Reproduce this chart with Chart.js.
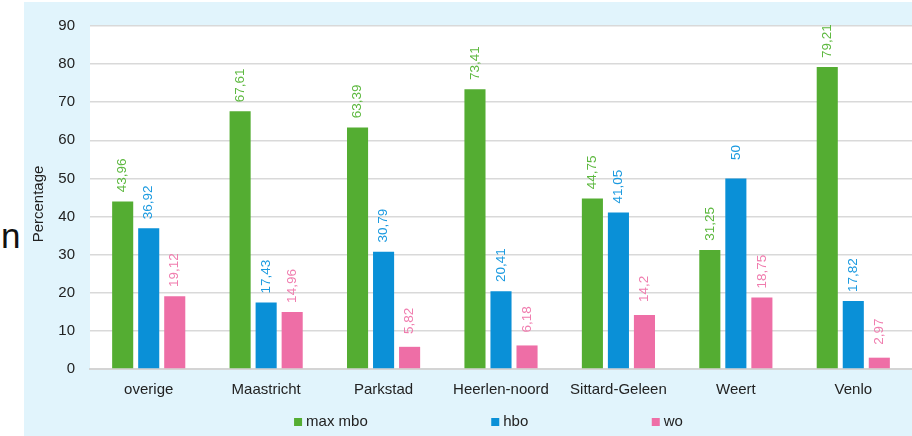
<!DOCTYPE html>
<html lang="nl">
<head>
    <meta charset="UTF-8">
    <title>Percentage per regio</title>
    <script src="https://cdn.jsdelivr.net/npm/chart.js"></script>
    <style>
        body { margin: 0; background: #fff; font-family: "Liberation Sans", Arial, sans-serif; }
        #stray { position: absolute; left: 1px; top: 216px; font-size: 35px; color: #111; }
        #box { position: absolute; left: 24px; top: 2px; width: 888px; height: 434px; background: #e1f4fc; }
    </style>
</head>
<body>
    <span id="stray">n</span>
    <div id="box"><canvas id="chart" width="888" height="434"></canvas></div>

    <script>
        const regions = ["overige", "Maastricht", "Parkstad", "Heerlen-noord", "Sittard-Geleen", "Weert", "Venlo"];
        const maxMbo = [43.96, 67.61, 63.39, 73.41, 44.75, 31.25, 79.21];
        const hbo = [36.92, 17.43, 30.79, 20.41, 41.05, 50, 17.82];
        const wo = [19.12, 14.96, 5.82, 6.18, 14.2, 18.75, 2.97];
        const yTicks = [0, 10, 20, 30, 40, 50, 60, 70, 80, 90];

        const barColors = ["#54ad32", "#0a90d7", "#ee6ea6"];
        const labelColors = ["#5cb83e", "#1b9ae0", "#f07cae"];
        const FONT = "'Liberation Sans', Arial, sans-serif";

        // witte plotachtergrond
        const plotBg = {
            id: "plotBg",
            beforeDraw(chart) {
                const a = chart.chartArea, c = chart.ctx;
                c.save();
                c.fillStyle = "#ffffff";
                c.fillRect(a.left, a.top, a.right - a.left, a.bottom - a.top);
                c.restore();
            }
        };

        // verticale waardelabels boven de staven
        const valueLabels = {
            id: "valueLabels",
            afterDatasetsDraw(chart) {
                const c = chart.ctx;
                chart.data.datasets.forEach((ds, i) => {
                    chart.getDatasetMeta(i).data.forEach((bar, j) => {
                        const txt = String(ds.data[j]).replace(".", ",");
                        c.save();
                        c.translate(bar.x, bar.y - 26);
                        c.rotate(-Math.PI / 2);
                        c.font = "13.5px " + FONT;
                        c.fillStyle = labelColors[i];
                        c.textAlign = "center";
                        c.textBaseline = "middle";
                        c.fillText(txt, 0, 0);
                        c.restore();
                    });
                });
            }
        };

        // as-titel en legenda onderaan met brede tussenruimte
        const extras = {
            id: "extras",
            afterDraw(chart) {
                const c = chart.ctx, a = chart.chartArea;
                c.save();
                c.font = "15px " + FONT;
                c.fillStyle = "#222";
                c.textAlign = "center";
                c.textBaseline = "middle";
                c.translate(15, 202);
                c.rotate(-Math.PI / 2);
                c.fillText("Percentage", 0, 0);
                c.restore();

                c.save();
                c.font = "15px " + FONT;
                c.textBaseline = "middle";
                const gap = 123.5, box = 8;
                const items = chart.data.datasets.map(ds => ({ text: ds.label, w: box + 4 + c.measureText(ds.label).width }));
                const total = items.reduce((s, it) => s + it.w, 0) + gap * (items.length - 1);
                let x = (a.left + a.right) / 2 - total / 2 - 12.5;
                const y = 420;
                items.forEach((it, i) => {
                    c.fillStyle = barColors[i];
                    c.fillRect(x, y - box / 2, box, box);
                    c.fillStyle = "#222";
                    c.fillText(it.text, x + box + 4, y);
                    x += it.w + gap;
                });
                c.restore();
            }
        };

        new Chart(document.getElementById("chart"), {
            type: "bar",
            data: {
                labels: regions,
                datasets: [
                    { label: "max mbo", data: maxMbo, backgroundColor: barColors[0] },
                    { label: "hbo", data: hbo, backgroundColor: barColors[1] },
                    { label: "wo", data: wo, backgroundColor: barColors[2] }
                ]
            },
            options: {
                responsive: false,
                animation: false,
                layout: { padding: { top: 15, right: 0, bottom: 0, left: 0 } },
                categoryPercentage: 0.665,
                barPercentage: 0.81,
                plugins: { legend: { display: false }, tooltip: { enabled: false } },
                scales: {
                    x: {
                        grid: { display: false },
                        border: { color: "#d4d4d4", width: 2 },
                        ticks: { color: "#222", font: { size: 15, family: FONT }, padding: 4 },
                        afterFit(scale) { scale.height = 67; }
                    },
                    y: {
                        min: 0, max: 90,
                        afterBuildTicks(scale) { scale.ticks = yTicks.map(v => ({ value: v })); },
                        grid: { color: "#d9d9d9", lineWidth: 1.6, drawTicks: false },
                        border: { display: false },
                        ticks: { color: "#222", font: { size: 15, family: FONT }, padding: 15 },
                        afterFit(scale) { scale.width = 66; }
                    }
                }
            },
            plugins: [plotBg, valueLabels, extras]
        });
    </script>
</body>
</html>
